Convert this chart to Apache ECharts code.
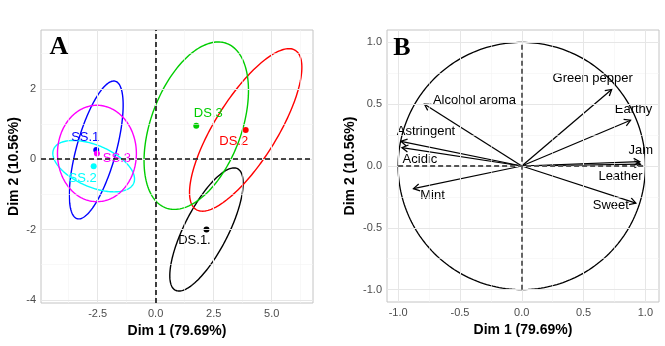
<!DOCTYPE html>
<html>
<head>
<meta charset="utf-8">
<script src="https://cdn.jsdelivr.net/npm/echarts@6/dist/echarts.min.js"></script>
<style>
  html, body { margin: 0; padding: 0; background: #ffffff; }
  #chart { width: 665px; height: 346px; }
</style>
</head>
<body>
<div id="chart"></div>
<script>
// ---- Panel A: sample groups on the first two dimensions ----
const groups = ['SS.1', 'SS.2', 'SS.3', 'DS.1.', 'DS.2', 'DS.3'];
const groupDim1 = [-2.56, -2.67, -2.53, 2.19, 3.88, 1.75];
const groupDim2 = [0.26, -0.20, 0.16, -2.00, 0.83, 0.95];
// confidence ellipses: half-extent along Dim 1, half-extent along Dim 2, Dim1/Dim2 correlation
const ellipseHalfDim1 = [1.16, 1.76, 1.70, 1.58, 2.42, 2.25];
const ellipseHalfDim2 = [1.96, 0.73, 1.37, 1.75, 2.31, 2.38];
const ellipseCorr = [0.65, -0.50, 0.00, 0.75, 0.77, 0.42];

// ---- Panel B: variable correlations with the two dimensions ----
const variables = ['Green pepper', 'Earthy', 'Jam', 'Leather', 'Sweet', 'Alcohol aroma', 'Astringent', 'Acidic', 'Mint'];
const varDim1 = [0.727, 0.880, 0.955, 0.960, 0.923, -0.787, -0.977, -0.969, -0.876];
const varDim2 = [0.619, 0.370, 0.035, 0.015, -0.300, 0.500, 0.200, 0.149, -0.183];

// ---- axis ticks ----
const ticksAx = [-2.5, 0, 2.5, 5];
const ticksAy = [-4, -2, 0, 2];
const minorAx = [-3.75, -1.25, 1.25, 3.75, 6.25];
const minorAy = [-3, -1, 1, 3];
const ticksB = [-1, -0.5, 0, 0.5, 1];
const minorB = [-0.75, -0.25, 0.25, 0.75];

const xTitle = 'Dim 1 (79.69%)';
const yTitle = 'Dim 2 (10.56%)';

// ---- styling ----
const groupColors = ['#0000FF', '#00FFFF', '#FF00FF', '#000000', '#FF0000', '#00CD00'];
const groupLabelShift = [[-11, -13], [-11, 12], [20, 5], [-12, 11], [-12, 12], [12, -12]];
const varLabelShift = [[-19, -11], [3, -11], [1, -11], [-20, 12], [-25, 2], [50, -4], [25, -10], [18, 12], [19, 7]];
const FONT = '"Liberation Sans", Arial, Helvetica, sans-serif';
const MAJOR = '#e6e6e6';
const MINOR = '#f3f3f3';

const chart = echarts.init(document.getElementById('chart'), null, { renderer: 'canvas' });

function gridLines(xMajor, xMinor, yMajor, yMinor) {
  const d = [];
  xMinor.forEach(v => d.push({ xAxis: v, lineStyle: { color: MINOR, width: 0.6, type: 'solid' } }));
  yMinor.forEach(v => d.push({ yAxis: v, lineStyle: { color: MINOR, width: 0.6, type: 'solid' } }));
  xMajor.forEach(v => d.push({ xAxis: v, lineStyle: { color: MAJOR, width: 1, type: 'solid' } }));
  yMajor.forEach(v => d.push({ yAxis: v, lineStyle: { color: MAJOR, width: 1, type: 'solid' } }));
  return d;
}

function axisCommon(values, fmt) {
  return {
    axisLine: { show: false },
    axisTick: { show: true, length: 3, customValues: values, lineStyle: { color: '#b3b3b3', width: 1 } },
    axisLabel: { customValues: values, color: '#4d4d4d', fontSize: 11, fontFamily: FONT, margin: 5, formatter: fmt },
    splitLine: { show: false },
    nameLocation: 'middle',
    nameTextStyle: { color: '#000', fontSize: 14, fontWeight: 'bold', fontFamily: FONT }
  };
}

const fmt1 = v => (Math.abs(v) < 1e-9 ? 0 : v).toFixed(1);
const fmt0 = v => String(Math.round(v));

function ellipseItem(params, api) {
  const i = params.dataIndex;
  const phase = Math.acos(ellipseCorr[i]);
  const pts = [];
  for (let k = 0; k <= 180; k++) {
    const t = k / 180 * 2 * Math.PI;
    pts.push(api.coord([
      groupDim1[i] + ellipseHalfDim1[i] * Math.cos(t),
      groupDim2[i] + ellipseHalfDim2[i] * Math.cos(t - phase)
    ]));
  }
  return { type: 'polyline', shape: { points: pts }, style: { stroke: groupColors[i], fill: null, lineWidth: 1.4 } };
}

function circleItem(params, api) {
  const pts = [];
  for (let k = 0; k <= 240; k++) {
    const t = k / 240 * 2 * Math.PI;
    pts.push(api.coord([Math.cos(t), Math.sin(t)]));
  }
  return { type: 'polyline', shape: { points: pts }, style: { stroke: '#000', fill: null, lineWidth: 1.3 } };
}

function arrowItem(params, api) {
  const i = params.dataIndex;
  const o = api.coord([0, 0]);
  const p = api.coord([varDim1[i], varDim2[i]]);
  const ang = Math.atan2(p[1] - o[1], p[0] - o[0]);
  const L = 7, a = Math.PI / 6;
  const h1 = [p[0] - L * Math.cos(ang - a), p[1] - L * Math.sin(ang - a)];
  const h2 = [p[0] - L * Math.cos(ang + a), p[1] - L * Math.sin(ang + a)];
  const s = varLabelShift[i];
  return {
    type: 'group',
    children: [
      { type: 'line', shape: { x1: o[0], y1: o[1], x2: p[0], y2: p[1] }, style: { stroke: '#000', lineWidth: 1.25 } },
      { type: 'polyline', shape: { points: [h1, p, h2] }, style: { stroke: '#000', fill: null, lineWidth: 1.25 } },
      { type: 'text', x: p[0] + s[0], y: p[1] + s[1],
        style: { text: variables[i], align: 'center', verticalAlign: 'middle', fill: '#000', font: '13px ' + FONT } }
    ]
  };
}

const series = [];

// background grid lines
series.push({
  type: 'scatter', xAxisIndex: 0, yAxisIndex: 0, data: [], silent: true, z: 0,
  markLine: { silent: true, symbol: ['none', 'none'], label: { show: false }, animation: false,
    data: gridLines(ticksAx, minorAx, ticksAy, minorAy) }
});
series.push({
  type: 'scatter', xAxisIndex: 1, yAxisIndex: 1, data: [], silent: true, z: 0,
  markLine: { silent: true, symbol: ['none', 'none'], label: { show: false }, animation: false,
    data: gridLines(ticksB, minorB, ticksB, minorB) }
});

// zero reference lines
series.push({
  type: 'scatter', xAxisIndex: 0, yAxisIndex: 0, data: [], silent: true, z: 1,
  markLine: { silent: true, symbol: ['none', 'none'], label: { show: false }, animation: false,
    lineStyle: { color: '#111', width: 1.6, type: [5, 3] },
    data: [{ xAxis: 0 }, { yAxis: 0 }] }
});
series.push({
  type: 'scatter', xAxisIndex: 1, yAxisIndex: 1, data: [], silent: true, z: 1,
  markLine: { silent: true, symbol: ['none', 'none'], label: { show: false }, animation: false,
    lineStyle: { color: '#555555', width: 1.8, type: [5, 3] },
    data: [
      [{ coord: [-1, 0] }, { coord: [1, 0] }],
      [{ coord: [0, -1] }, { coord: [0, 1] }]
    ] }
});

// ellipses
series.push({
  type: 'custom', xAxisIndex: 0, yAxisIndex: 0, silent: true, z: 2,
  data: groups.map((g, i) => [groupDim1[i], groupDim2[i]]),
  renderItem: ellipseItem
});

// group mean points with labels
groups.forEach((g, i) => {
  series.push({
    type: 'scatter', xAxisIndex: 0, yAxisIndex: 0, z: 3, silent: true,
    symbolSize: 6,
    itemStyle: { color: groupColors[i], opacity: 1 },
    data: [{ name: g, value: [groupDim1[i], groupDim2[i]] }],
    label: {
      show: true, position: 'inside', offset: groupLabelShift[i], formatter: '{b}',
      color: groupColors[i], fontSize: 13, fontFamily: FONT
    }
  });
});

// correlation circle and variable arrows
series.push({
  type: 'custom', xAxisIndex: 1, yAxisIndex: 1, silent: true, z: 2,
  data: [[0, 0]], renderItem: circleItem
});
series.push({
  type: 'custom', xAxisIndex: 1, yAxisIndex: 1, silent: true, z: 3,
  data: variables.map((v, i) => [varDim1[i], varDim2[i]]),
  renderItem: arrowItem
});

chart.setOption({
  animation: false,
  backgroundColor: '#ffffff',
  grid: [
    { left: 41, top: 30, width: 272, height: 273, show: true, borderColor: '#c4c4c4', borderWidth: 1, backgroundColor: '#fff', containLabel: false },
    { left: 387, top: 30, width: 272, height: 272, show: true, borderColor: '#c4c4c4', borderWidth: 1, backgroundColor: '#fff', containLabel: false }
  ],
  xAxis: [
    Object.assign(axisCommon(ticksAx, fmt1), { type: 'value', gridIndex: 0, min: -4.94, max: 6.78, name: xTitle, nameGap: 20 }),
    Object.assign(axisCommon(ticksB, fmt1), { type: 'value', gridIndex: 1, min: -1.09, max: 1.11, name: xTitle, nameGap: 19 })
  ],
  yAxis: [
    Object.assign(axisCommon(ticksAy, fmt0), { type: 'value', gridIndex: 0, min: -4.09, max: 3.67, name: yTitle, nameGap: 20 }),
    Object.assign(axisCommon(ticksB, fmt1), { type: 'value', gridIndex: 1, min: -1.10, max: 1.10, name: yTitle, nameGap: 30 })
  ],
  graphic: [
    { type: 'text', x: 59, y: 47.5, style: { text: 'A', fontFamily: '"Liberation Serif", "DejaVu Serif", serif', fontSize: 26, fontWeight: 'bold', fill: '#000', align: 'center', verticalAlign: 'middle' }, z: 10 },
    { type: 'text', x: 402, y: 47.8, style: { text: 'B', fontFamily: '"Liberation Serif", "DejaVu Serif", serif', fontSize: 26, fontWeight: 'bold', fill: '#000', align: 'center', verticalAlign: 'middle' }, z: 10 }
  ],
  series: series
});
</script>
</body>
</html>
